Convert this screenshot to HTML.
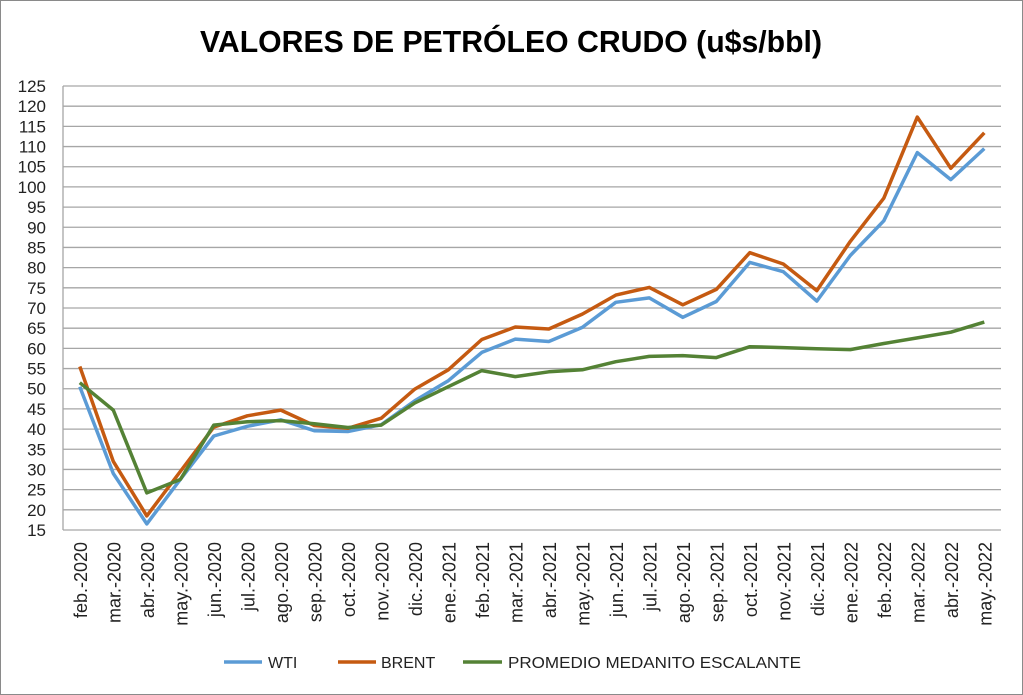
<!DOCTYPE html><html><head><meta charset="utf-8"><style>body{margin:0;background:#fff}svg{display:block}</style></head><body>
<svg id="s" width="1023" height="695" xmlns="http://www.w3.org/2000/svg" font-family="Liberation Sans, sans-serif">
<rect x="0.5" y="0.5" width="1022" height="694" fill="#fff" stroke="#8a8a8a"/>
<text x="511" y="52" text-anchor="middle" font-size="31" font-weight="bold" textLength="622" lengthAdjust="spacingAndGlyphs">VALORES DE PETRÓLEO CRUDO (u$s/bbl)</text>
<g id="g"></g>
</svg>
<script>
const g=document.getElementById('g');
const L=63,R=1001,T=86,B=530;
const y=v=>B-(v-15)*(B-T)/110;const cw=(R-L)/28;const x=i=>L+cw*(i+0.5);
let h='';
for(let v=15;v<=125;v+=5){h+=`<line x1="${L}" x2="${R}" y1="${y(v)}" y2="${y(v)}" stroke="#a6a6a6" stroke-width="1.3"/>`;
h+=`<text x="46" y="${y(v)+6}" text-anchor="end" font-size="17" fill="#222">${v}</text>`;}
h+=`<line x1="${L}" x2="${L}" y1="${T}" y2="${B}" stroke="#a6a6a6" stroke-width="1.3"/>`;
const lab=['feb.-2020','mar.-2020','abr.-2020','may.-2020','jun.-2020','jul.-2020','ago.-2020','sep.-2020','oct.-2020','nov.-2020','dic.-2020','ene.-2021','feb.-2021','mar.-2021','abr.-2021','may.-2021','jun.-2021','jul.-2021','ago.-2021','sep.-2021','oct.-2021','nov.-2021','dic.-2021','ene.-2022','feb.-2022','mar.-2022','abr.-2022','may.-2022'];
lab.forEach((t,i)=>{h+=`<text transform="translate(${x(i)+7},542) rotate(-90)" text-anchor="end" font-size="18" fill="#222">${t}</text>`;});
const wti=[50.5,29,16.5,27.5,38.3,40.7,42.3,39.6,39.4,41.1,47,52,59,62.3,61.7,65.2,71.4,72.5,67.7,71.6,81.3,79,71.7,83,91.6,108.5,101.8,109.5];
const br=[55.5,32,18.5,29.5,40.5,43.3,44.7,40.9,40.2,42.7,49.9,54.7,62.2,65.3,64.8,68.5,73.2,75.1,70.8,74.6,83.7,80.9,74.3,86.5,97.2,117.3,104.6,113.4];
const gr=[51.5,44.7,24.2,27.5,41,41.8,42.1,41.3,40.4,41,46.5,50.5,54.5,53,54.2,54.7,56.7,58,58.2,57.7,60.4,60.2,59.9,59.7,61.2,62.6,64,66.5];
const pl=(d,c)=>`<polyline fill="none" stroke="${c}" stroke-width="3.5" stroke-linejoin="round" points="${d.map((v,i)=>x(i).toFixed(1)+','+y(v).toFixed(1)).join(' ')}"/>`;
h+=pl(wti,'#5b9bd5')+pl(br,'#c55a11')+pl(gr,'#548235');
h+=`<line x1="224" x2="262" y1="662" y2="662" stroke="#5b9bd5" stroke-width="3.5"/><text x="268" y="668" font-size="16" fill="#222">WTI</text>`;
h+=`<line x1="338" x2="376" y1="662" y2="662" stroke="#c55a11" stroke-width="3.5"/><text x="381" y="668" font-size="16" fill="#222">BRENT</text>`;
h+=`<line x1="463" x2="502" y1="662" y2="662" stroke="#548235" stroke-width="3.5"/><text x="508" y="668" font-size="16" fill="#222" textLength="293" lengthAdjust="spacingAndGlyphs">PROMEDIO MEDANITO ESCALANTE</text>`;
g.innerHTML=h;
</script>
</body></html>
